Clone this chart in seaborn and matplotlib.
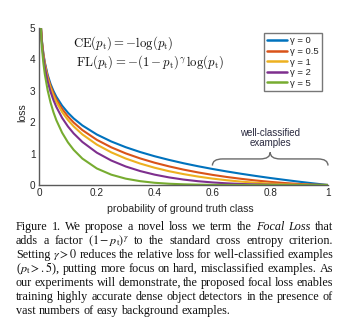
import matplotlib
matplotlib.use("Agg")
import numpy as np
import pandas as pd
import seaborn as sns
import matplotlib.pyplot as plt
from matplotlib.path import Path
from matplotlib.patches import PathPatch
from matplotlib.lines import Line2D

# probability of ground truth class and the loss for each gamma
p_t = [0.005, 0.01, 0.015, 0.02, 0.03, 0.04, 0.05, 0.06, 0.08, 0.10, 0.12, 0.15,
       0.20, 0.25, 0.30, 0.35, 0.40, 0.45, 0.50, 0.55, 0.60, 0.65, 0.70, 0.75,
       0.80, 0.85, 0.90, 0.95, 1.00]
loss_g0 = [5.298, 4.605, 4.200, 3.912, 3.507, 3.219, 2.996, 2.813, 2.526, 2.303, 2.120, 1.897,
           1.609, 1.386, 1.204, 1.050, 0.916, 0.799, 0.693, 0.598, 0.511, 0.431, 0.357, 0.288,
           0.223, 0.163, 0.105, 0.051, 0.0]
loss_g05 = [5.285, 4.582, 4.168, 3.873, 3.454, 3.154, 2.920, 2.727, 2.423, 2.185, 1.989, 1.749,
            1.439, 1.200, 1.007, 0.847, 0.710, 0.593, 0.490, 0.401, 0.323, 0.255, 0.196, 0.144,
            0.100, 0.063, 0.033, 0.011, 0.0]
loss_g1 = [5.272, 4.559, 4.137, 3.834, 3.402, 3.090, 2.846, 2.644, 2.324, 2.072, 1.866, 1.612,
           1.287, 1.040, 0.843, 0.683, 0.550, 0.439, 0.347, 0.269, 0.204, 0.151, 0.107, 0.072,
           0.045, 0.024, 0.011, 0.003, 0.0]
loss_g2 = [5.245, 4.514, 4.075, 3.757, 3.300, 2.967, 2.704, 2.486, 2.138, 1.865, 1.642, 1.371,
           1.030, 0.780, 0.590, 0.444, 0.330, 0.242, 0.173, 0.121, 0.082, 0.053, 0.032, 0.018,
           0.009, 0.004, 0.001, 0.0, 0.0]
loss_g5 = [5.167, 4.379, 3.895, 3.536, 3.012, 2.625, 2.318, 2.064, 1.665, 1.360, 1.119, 0.842,
           0.527, 0.329, 0.202, 0.122, 0.071, 0.040, 0.022, 0.011, 0.005, 0.002, 0.001, 0.0,
           0.0, 0.0, 0.0, 0.0, 0.0]
gamma_labels = ["0", "0.5", "1", "2", "5"]
line_colors = ["#0072BD", "#D95319", "#EDB120", "#7E2F8E", "#77AC30"]
x_ticks = [0, 0.2, 0.4, 0.6, 0.8, 1]
y_ticks = [0, 1, 2, 3, 4, 5]

frames = []
for g, vals in zip(gamma_labels, [loss_g0, loss_g05, loss_g1, loss_g2, loss_g5]):
    frames.append(pd.DataFrame({"p": p_t, "loss": vals, "gamma": g}))
df = pd.concat(frames, ignore_index=True)

sns.set_style("white")
plt.rcParams["font.family"] = ["Liberation Sans", "DejaVu Sans"]

W, H = 346, 331
fig = plt.figure(figsize=(W / 100, H / 100), dpi=100)
ax = fig.add_axes([39 / W, 1 - 185 / H, 289 / W, 157 / H])

sns.lineplot(data=df, x="p", y="loss", hue="gamma", palette=line_colors,
             hue_order=gamma_labels, estimator=None, sort=False, legend=False,
             linewidth=1.5, ax=ax)

ax.set_xlim(0, 1)
ax.set_ylim(0, 5)
ax.set_xticks(x_ticks)
ax.set_xticklabels(["0", "0.2", "0.4", "0.6", "0.8", "1"])
ax.set_yticks(y_ticks)
ax.set_xlabel("")
ax.set_ylabel("")
axis_gray = "#5a5a5a"
for side in ["top", "right"]:
    ax.spines[side].set_visible(False)
for side in ["left", "bottom"]:
    ax.spines[side].set_color(axis_gray)
    ax.spines[side].set_linewidth(1.0)
ax.tick_params(direction="in", length=3, width=0.8, color=axis_gray,
               labelsize=7.2, labelcolor="#262626", pad=2.5)

# legend
handles = [Line2D([], [], color=c, lw=1.8) for c in line_colors]
labels = ["\u03b3 = " + g for g in gamma_labels]
leg = ax.legend(handles, labels, loc="upper right", bbox_to_anchor=(0.979, 0.968),
                fontsize=6.8, frameon=True, fancybox=False, handlelength=2.1,
                handletextpad=0.3, labelspacing=0.17, borderpad=0.35, borderaxespad=0)
leg.get_frame().set_edgecolor("#555555")
leg.get_frame().set_linewidth(1.0)
for t in leg.get_texts():
    t.set_color("#262626")

# formulas
ax.text(0.118, 0.904, r"$\mathrm{CE}(p_{\mathrm{t}}) = -\log(p_{\mathrm{t}})$",
        transform=ax.transAxes, ha="left", va="center", fontsize=9.2,
        math_fontfamily="cm", color="#111111")
ax.text(0.128, 0.783,
        r"$\mathrm{FL}(p_{\mathrm{t}}) = -(1-p_{\mathrm{t}})^{\gamma}\,\log(p_{\mathrm{t}})$",
        transform=ax.transAxes, ha="left", va="center", fontsize=9.2,
        math_fontfamily="cm", color="#111111")

# brace over the well-classified region
yb, yt, ym = 0.62, 0.83, 1.04
verts = [(0.6, yb), (0.6, yt), (0.635, yt), (0.765, yt), (0.8, yt), (0.8, ym),
         (0.8, yt), (0.835, yt), (0.965, yt), (1.0, yt), (1.0, yb)]
codes = [Path.MOVETO, Path.CURVE3, Path.CURVE3, Path.LINETO, Path.CURVE3, Path.CURVE3,
         Path.CURVE3, Path.CURVE3, Path.LINETO, Path.CURVE3, Path.CURVE3]
ax.add_patch(PathPatch(Path(verts, codes), fill=False, edgecolor="#6a6a6a", lw=1.0,
                       clip_on=False))
ax.text(0.8, 1.66, "well-classified", ha="center", va="center", fontsize=7.0,
        color="#2a2a40")
ax.text(0.8, 1.34, "examples", ha="center", va="center", fontsize=7.0,
        color="#2a2a40")

# axis titles
fig.text(180 / W, 1 - 209 / H, "probability of ground truth class", ha="center",
         va="center", fontsize=7.6, color="#262626")
fig.text(22 / W, 1 - 113 / H, "loss", ha="center", va="center", rotation=90,
         fontsize=7.6, color="#262626")

# caption, justified line by line
serif = ["Liberation Serif", "DejaVu Serif"]
cap_size = 8.75
caption_lines = [
    ["Figure", "1.", "We", "propose", "a", "novel", "loss", "we", "term", "the",
     ("Focal", "italic"), ("Loss", "italic"), "that"],
    ["adds", "a", "factor", r"$(1-p_{\mathrm{t}})^{\gamma}$", "to", "the", "standard",
     "cross", "entropy", "criterion."],
    ["Setting", r"$\gamma>0$", "reduces", "the", "relative", "loss", "for",
     "well-classified", "examples"],
    [r"($p_{\mathrm{t}}>.5$),", "putting", "more", "focus", "on", "hard,",
     "misclassified", "examples.", "As"],
    ["our", "experiments", "will", "demonstrate,", "the", "proposed", "focal", "loss",
     "enables"],
    ["training", "highly", "accurate", "dense", "object", "detectors", "in", "the",
     "presence", "of"],
    ["vast", "numbers", "of", "easy", "background", "examples."],
]
baselines = [230, 244, 258, 272, 286, 300, 314]
x_left, x_right = 16 / W, 333 / W

renderer = fig.canvas.get_renderer()
for i, (words, base) in enumerate(zip(caption_lines, baselines)):
    y = 1 - base / H
    texts = []
    for w in words:
        style = "normal"
        if isinstance(w, tuple):
            w, style = w
        t = fig.text(x_left, y, w, ha="left", va="baseline", fontsize=cap_size,
                     family=serif, style=style, math_fontfamily="stix", color="#111111")
        texts.append(t)
    widths = [t.get_window_extent(renderer).width / fig.bbox.width for t in texts]
    last = i == len(caption_lines) - 1
    if last:
        gap = 2.9 / W
    else:
        gap = (x_right - x_left - sum(widths)) / (len(texts) - 1)
    x = x_left
    for t, wdt in zip(texts, widths):
        t.set_x(x)
        x += wdt + gap

fig.savefig("out.png", dpi=100, facecolor="white")
